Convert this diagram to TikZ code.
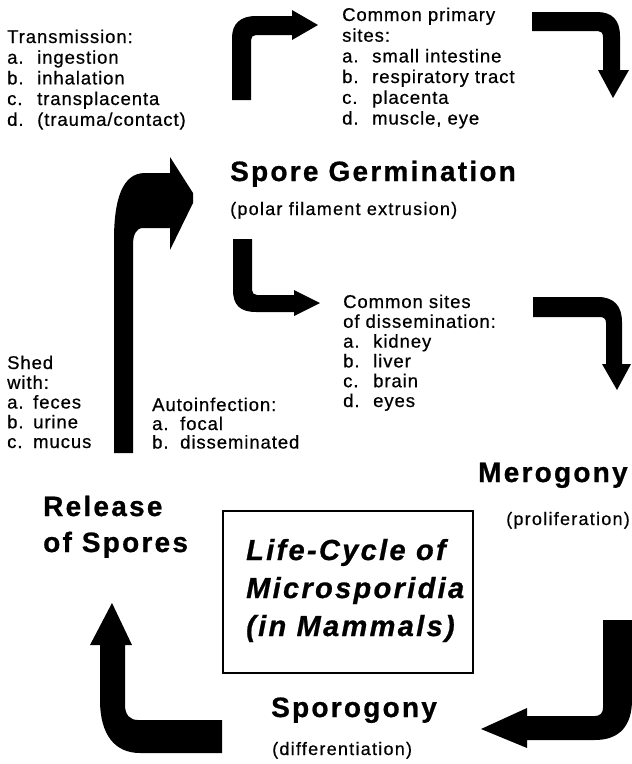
\documentclass[tikz,border=0pt]{standalone}
\usepackage{fontspec}
\setmainfont{Liberation Sans}
\newfontfamily\bodyfont[LetterSpace=5,FakeBold=0.6]{Liberation Sans}
\newfontfamily\subfont[LetterSpace=7,FakeBold=0.5]{Liberation Sans}
\newfontfamily\headfont[LetterSpace=8,FakeBold=0.8]{Liberation Sans}
\newcommand\liitem[3][30pt]{\makebox[#1][l]{#2}#3}
\begin{document}
\begin{tikzpicture}[x=1pt,y=-1pt,
  body/.style={inner sep=0pt, anchor=base west, font=\bodyfont\fontsize{18.5}{20}\selectfont},
  sub/.style={inner sep=0pt, anchor=base west, font=\subfont\fontsize{18}{20}\selectfont},
  head/.style={inner sep=0pt, anchor=base west, font=\headfont\bfseries\fontsize{28}{30}\selectfont},
  boxhead/.style={inner sep=0pt, anchor=base west, font=\headfont\bfseries\itshape\fontsize{29}{30}\selectfont},
  blockarrow/.style={fill=black, draw=none},
  frame/.style={draw=black, line width=1.8pt, fill=none}]
\useasboundingbox (0,0) rectangle (632,764);

% ---- Transmission
\node[body] (tr0) at (7,43) {Transmission:};
\node[body] (tr1) at (7,63.7) {\liitem{a.}{ingestion}};
\node[body] (tr2) at (7,84.4) {\liitem{b.}{inhalation}};
\node[body] (tr3) at (7,105) {\liitem{c.}{transplacenta}};
\node[body] (tr4) at (7,125.8) {\liitem{d.}{(trauma/contact)}};

% ---- Common primary sites
\node[body] (cp0) at (342,21) {Common primary};
\node[body] (cp1) at (342,41.7) {sites:};
\node[body] (cp2) at (342,62.4) {\liitem{a.}{small intestine}};
\node[body] (cp3) at (342,83) {\liitem{b.}{respiratory tract}};
\node[body] (cp4) at (342,103.8) {\liitem{c.}{placenta}};
\node[body] (cp5) at (342,124.5) {\liitem{d.}{muscle, eye}};

% ---- Spore Germination
\node[head] (sg) at (230,181) {Spore Germination};
\node[sub] (sgs) at (230,215) {(polar filament extrusion)};

% ---- Common sites of dissemination
\node[body] (cd0) at (343,308) {Common sites};
\node[body] (cd1) at (343,327.8) {of dissemination:};
\node[body] (cd2) at (343,347.6) {\liitem{a.}{kidney}};
\node[body] (cd3) at (343,367.4) {\liitem{b.}{liver}};
\node[body] (cd4) at (343,387.2) {\liitem{c.}{brain}};
\node[body] (cd5) at (343,407) {\liitem{d.}{eyes}};

% ---- Shed with
\node[body] (sh0) at (7,369) {Shed};
\node[body] (sh1) at (7,388.8) {with:};
\node[body] (sh2) at (7,408.5) {\liitem[26pt]{a.}{feces}};
\node[body] (sh3) at (7,428.3) {\liitem[26pt]{b.}{urine}};
\node[body] (sh4) at (7,448) {\liitem[26pt]{c.}{mucus}};

% ---- Autoinfection
\node[body] (au0) at (152,411) {Autoinfection:};
\node[body] (au1) at (152,430) {\liitem[28pt]{a.}{focal}};
\node[body] (au2) at (152,448.5) {\liitem[28pt]{b.}{disseminated}};

% ---- Merogony
\node[head] (mer) at (478,482) {Merogony};
\node[sub] (mers) at (506,525) {(proliferation)};

% ---- Release of Spores
\node[head] (rel1) at (43,516) {Release};
\node[head] (rel2) at (43,552) {of Spores};

% ---- Sporogony
\node[head] (spo) at (271,717) {Sporogony};
\node[sub] (spos) at (272,755) {(differentiation)};

% ---- Central box
\draw[frame] (223,511) rectangle (473,673);
\node[boxhead] (b1) at (246,560) {Life-Cycle of};
\node[boxhead] (b2) at (246,598) {Microsporidia};
\node[boxhead] (b3) at (246,636) {(in Mammals)};

% ---- Block arrows
% A1: transmission -> primary sites
\fill[blockarrow] (232,100) -- (232,38) .. controls (232,24) and (240,16) .. (256,16)
  -- (292,16) -- (292,10) -- (318,25) -- (292,40) -- (292,35) -- (256,35)
  .. controls (253,35) and (251,37) .. (251,40) -- (251,100) -- cycle;
% A2: primary sites -> down
\fill[blockarrow] (532,12) -- (597,12) .. controls (612,12) and (620,20) .. (620,36)
  -- (620,70) -- (629,70) -- (613,98) -- (598,70) -- (603,70) -- (603,37)
  .. controls (603,33) and (601,31) .. (598,31) -- (532,31) -- cycle;
% A3: germination -> dissemination
\fill[blockarrow] (233,239) -- (233,290) .. controls (233,305) and (240,312) .. (256,312)
  -- (294,312) -- (294,316) -- (320,303) -- (294,290) -- (294,295) -- (257,295)
  .. controls (254,295) and (252,293) .. (252,290) -- (252,239) -- cycle;
% A4: dissemination -> merogony
\fill[blockarrow] (533,297) -- (598,297) .. controls (614,297) and (622,306) .. (622,322)
  -- (622,364) -- (631,364) -- (617,390) -- (602,364) -- (606,364) -- (606,323)
  .. controls (606,319) and (604,317) .. (600,317) -- (533,317) -- cycle;
% A5: release -> germination (big)
\fill[blockarrow] (114,453) -- (114,240) .. controls (114,200) and (122,173) .. (145,173)
  -- (170,173) -- (170,157) -- (193,193) -- (193,203) -- (170,250) -- (170,228)
  -- (143,228) .. controls (136,228) and (133,235) .. (133,245) -- (133,453) -- cycle;
% A6: merogony -> sporogony
\fill[blockarrow] (603,620) -- (632,620) -- (632,700) .. controls (632,725) and (620,740) .. (595,740)
  -- (527,740) -- (527,748) -- (481,729) -- (527,708) -- (527,716) -- (595,716)
  .. controls (600,716) and (603,713) .. (603,708) -- cycle;
% A7: sporogony -> release
\fill[blockarrow] (222,720) -- (138,720) .. controls (130,720) and (125,715) .. (125,705)
  -- (125,645) -- (132,645) -- (112,603) -- (90,645) -- (100,645) -- (100,700)
  .. controls (100,735) and (115,753) .. (140,753) -- (222,753) -- cycle;
\end{tikzpicture}
\end{document}
